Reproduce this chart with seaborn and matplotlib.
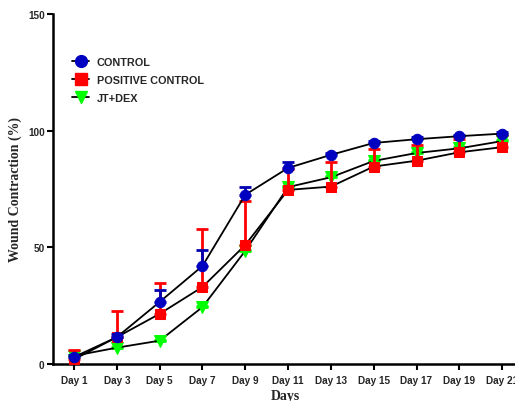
import numpy as np
import pandas as pd
import seaborn as sns
import matplotlib
matplotlib.use("Agg")
import matplotlib.pyplot as plt
from matplotlib.lines import Line2D

days = ["Day 1", "Day 3", "Day 5", "Day 7", "Day 9", "Day 11", "Day 13",
        "Day 15", "Day 17", "Day 19", "Day 21"]
control = [3.0, 11.5, 26.6, 42.0, 72.5, 84.0, 89.6, 94.7, 96.3, 97.6, 98.7]
control_err = [1.0, 1.5, 5.0, 7.0, 3.5, 2.5, 1.0, 0.8, 0.8, 0.6, 0.5]
positive = [2.0, 11.5, 21.5, 33.0, 51.0, 74.6, 76.0, 84.6, 87.1, 90.7, 92.9]
positive_err = [4.0, 11.0, 13.0, 25.0, 19.0, 9.0, 10.4, 7.5, 6.8, 5.7, 5.0]
jtdex = [3.5, 7.0, 10.0, 24.4, 48.5, 75.8, 80.0, 87.0, 90.4, 92.4, 95.5]
jtdex_err = [0.5, 0.5, 0.5, 0.5, 0.5, 0.5, 0.5, 0.5, 0.5, 0.5, 0.5]

series = ["CONTROL", "POSITIVE CONTROL", "JT+DEX"]

sns.set_style("white")
plt.rcParams['font.family'] = ['Liberation Sans', 'DejaVu Sans']

fig = plt.figure(figsize=(5.15, 4.02), dpi=100)
ax = fig.add_axes([0.103, 0.092, 0.897, 0.871])

x = np.arange(len(days))
df = pd.DataFrame({
    "x": np.concatenate([x, x, x]),
    "value": control + positive + jtdex,
    "err": control_err + positive_err + jtdex_err,
    "group": np.repeat(series, len(days)),
})

styles = {
    "JT+DEX": dict(marker="v", color="#00FF00", ecolor="#00FF00", ms=8),
    "POSITIVE CONTROL": dict(marker="s", color="#FF0000", ecolor="#FF0000", ms=7.5),
    "CONTROL": dict(marker="o", color="#0000C0", ecolor="#0000B0", ms=7.5),
}
order = ["JT+DEX", "POSITIVE CONTROL", "CONTROL"]
z = 2
for g in order:
    sub = df[df.group == g]
    st = styles[g]
    ax.errorbar(sub.x, sub.value, yerr=[np.zeros(len(sub)), sub.err],
                fmt="none", ecolor=st["ecolor"], elinewidth=2, capsize=4,
                capthick=2, zorder=z)
    sns.lineplot(data=sub, x="x", y="value", ax=ax, color="black", lw=1.3,
                 marker=st["marker"], markersize=st["ms"],
                 markerfacecolor=st["color"], markeredgecolor=st["color"],
                 zorder=z + 1, legend=False)
    z += 2

ax.set_xlim(-0.49, 10.3)
ax.set_ylim(0, 150)
ax.set_yticks([0, 50, 100, 150])
ax.set_xticks(x)
ax.set_xticklabels(days)
for lab in ax.get_xticklabels() + ax.get_yticklabels():
    lab.set_fontsize(7.2)
    lab.set_fontweight("bold")
ax.tick_params(axis="both", direction="out", length=4, width=1.5, color="black",
               left=True, bottom=True)
ax.tick_params(axis="y", pad=2)
ax.tick_params(axis="x", pad=4)
sns.despine(ax=ax)
for sp in ["left", "bottom"]:
    ax.spines[sp].set_linewidth(1.8)
    ax.spines[sp].set_color("black")

ax.set_ylabel("")
ax.set_xlabel("")
fig.text(15 / 515, 1 - 190 / 402, "Wound Contraction (%)", rotation=90,
         ha="center", va="center", fontfamily="Liberation Serif",
         fontweight="bold", fontsize=10)
fig.text(285 / 515, 1 - 397 / 402, "Days", ha="center", va="center",
         fontfamily="Liberation Serif", fontweight="bold", fontsize=10)

handles = []
for g in series:
    st = styles[g]
    handles.append(Line2D([0], [0], color="black", lw=1.3, marker=st["marker"],
                          markersize=st["ms"] + 1, markerfacecolor=st["color"],
                          markeredgecolor=st["color"]))
leg = ax.legend(handles, series, loc="upper left", bbox_to_anchor=(0.02, 0.905),
                frameon=False, handlelength=1.6, handletextpad=0.7,
                labelspacing=0.75, prop={"weight": "bold", "size": 7.8})

fig.savefig("out.png", dpi=100)
